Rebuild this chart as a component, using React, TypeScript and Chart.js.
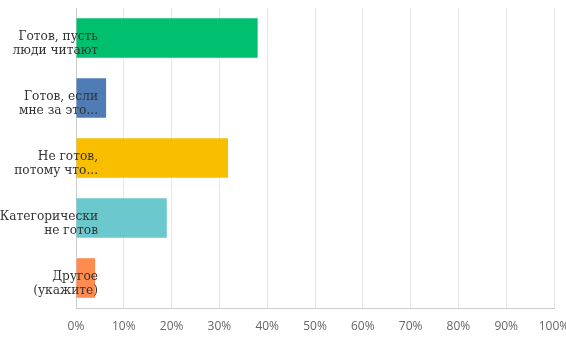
import React, { useEffect, useRef } from "react";
import { Chart, registerables } from "chart.js";

Chart.register(...registerables);

const categories: string[][] = [
  ["Готов, пусть", "люди читают"],
  ["Готов, если", "мне за это..."],
  ["Не готов,", "потому что..."],
  ["Категорически", "не готов"],
  ["Другое", "(укажите)"],
];
const values: number[] = [38, 6.3, 31.8, 19, 4];
const barColors: string[] = ["#00BF6F", "#507CB6", "#F9BE00", "#6BC8CD", "#FF8B4F"];
const xTicks: number[] = [0, 10, 20, 30, 40, 50, 60, 70, 80, 90, 100];

export default function App() {
  const ref = useRef<HTMLCanvasElement | null>(null);
  useEffect(() => {
    document.body.style.margin = "0";
    const canvas = ref.current;
    if (!canvas) return;
    const chart = new Chart(canvas, {
      type: "bar",
      data: {
        labels: categories,
        datasets: [
          {
            data: values,
            backgroundColor: barColors,
            borderWidth: 0,
            categoryPercentage: 1,
            barPercentage: 0.66,
          },
        ],
      },
      options: {
        indexAxis: "y",
        animation: false,
        responsive: false,
        maintainAspectRatio: false,
        layout: { padding: { top: 8, right: 12, bottom: 0, left: 0 } },
        plugins: { legend: { display: false }, tooltip: { enabled: false } },
        scales: {
          x: {
            min: 0,
            max: 100,
            afterBuildTicks: (scale: any) => {
              scale.ticks = xTicks.map((v) => ({ value: v }));
            },
            afterFit: (scale: any) => {
              scale.paddingRight = 0;
              scale.height = 35;
            },
            grid: { color: "#e6e6e6", drawTicks: false, lineWidth: 1 },
            border: { display: true, color: "#cccccc" },
            ticks: {
              padding: 11,
              color: "#666666",
              font: { family: "Open Sans", size: 12 },
              callback: (v: any) => v + "%",
              maxRotation: 0,
              autoSkip: false,
            },
          },
          y: {
            grid: { display: false, drawTicks: false },
            border: { display: true, color: "#cccccc" },
            afterFit: (scale: any) => {
              scale.width = 76;
              scale._computeLabelArea = () => undefined;
            },
            ticks: {
              z: 1,
              padding: -22,
              labelOffset: 6,
              color: "#333333",
              font: { family: "DejaVu Serif", size: 12.2, lineHeight: 1.15 },
              autoSkip: false,
            },
          },
        },
      },
    });
    return () => chart.destroy();
  }, []);
  return <canvas ref={ref} width={566} height={343} style={{ display: "block" }} />;
}
